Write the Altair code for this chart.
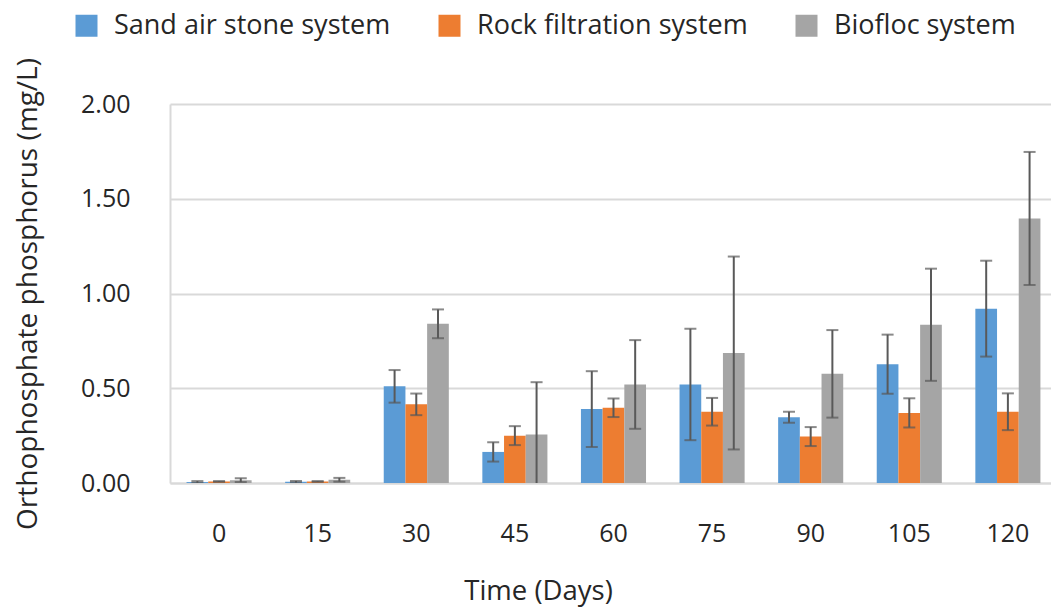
import altair as alt
import pandas as pd

days = ["0", "15", "30", "45", "60", "75", "90", "105", "120"]
systems = ["Sand air stone system", "Rock filtration system", "Biofloc system"]
colors = ["#5B9BD5", "#ED7D31", "#A5A5A5"]

sand_mean = [0.005, 0.006, 0.51, 0.164, 0.39, 0.52, 0.347, 0.627, 0.92]
sand_sd = [0.005, 0.005, 0.086, 0.051, 0.20, 0.294, 0.029, 0.156, 0.253]
rock_mean = [0.008, 0.008, 0.415, 0.25, 0.397, 0.376, 0.245, 0.37, 0.376]
rock_sd = [0.002, 0.002, 0.057, 0.05, 0.049, 0.073, 0.05, 0.077, 0.097]
bio_mean = [0.015, 0.017, 0.84, 0.256, 0.52, 0.686, 0.576, 0.835, 1.396]
bio_sd = [0.01, 0.01, 0.076, 0.276, 0.234, 0.509, 0.231, 0.296, 0.351]

rows = []
for s, means, sds in zip(systems, [sand_mean, rock_mean, bio_mean], [sand_sd, rock_sd, bio_sd]):
    for d, m, e in zip(days, means, sds):
        rows.append({"day": d, "system": s, "mean": m, "lo": m - e, "hi": m + e})
df = pd.DataFrame(rows)

FONT = "Open Sans"
TXT = "#262626"
YTITLE = "Orthophosphate phosphorus (mg/L)"

x = alt.X(
    "day:N",
    sort=days,
    title="Time (Days)",
    scale=alt.Scale(paddingInner=0.34, paddingOuter=0.1375, align=0.61),
    axis=alt.Axis(
        labelAngle=0, ticks=False, labelPadding=38, labelFontSize=25,
        titleX=368, titleY=116, titleAlign="center", titleBaseline="alphabetic",
        titleFontSize=27.5, titleFontWeight="normal",
        domainColor="#D9D9D9", domainWidth=2,
    ),
)
xo = alt.XOffset("system:N", sort=systems, scale=alt.Scale(paddingInner=0, paddingOuter=0))
yscale = alt.Scale(domain=[0, 2])
yaxis = alt.Axis(
    values=[0, 0.5, 1.0, 1.5, 2.0], format=".2f", ticks=False, labelPadding=40,
    labelFontSize=25, gridColor="#D9D9D9", gridWidth=2,
    domainColor="#D9D9D9", domainWidth=2,
    titleFontSize=28, titleFontWeight="normal", titleAngle=-90,
    titleX=-142, titleY=189.5, titleAlign="center", titleBaseline="middle",
)

bars = alt.Chart(df).mark_bar().encode(
    x=x,
    xOffset=xo,
    y=alt.Y("mean:Q", scale=yscale, axis=yaxis, title=YTITLE),
    color=alt.Color(
        "system:N",
        scale=alt.Scale(domain=systems, range=colors),
        legend=alt.Legend(
            title=None, orient="none", legendX=-97, legendY=-92,
            direction="horizontal", symbolType="square", symbolSize=484,
            symbolStrokeWidth=0, labelFontSize=27, labelOffset=14,
            columnPadding=45, labelLimit=500, labelColor=TXT,
        ),
    ),
)

rules = alt.Chart(df).mark_rule(color="#595959", strokeWidth=2, clip=True).encode(
    x=x, xOffset=xo,
    y=alt.Y("lo:Q", scale=yscale, title=YTITLE),
    y2="hi:Q",
)
caps_hi = alt.Chart(df).mark_tick(color="#595959", size=12, thickness=2, clip=True).encode(
    x=x, xOffset=xo, y=alt.Y("hi:Q", scale=yscale, title=YTITLE),
)
caps_lo = alt.Chart(df).mark_tick(color="#595959", size=12, thickness=2, clip=True).encode(
    x=x, xOffset=xo, y=alt.Y("lo:Q", scale=yscale, title=YTITLE),
)

chart = alt.layer(bars, rules, caps_hi, caps_lo).properties(
    width=881,
    height=379,
    autosize=alt.AutoSizeParams(type="none"),
    padding={"left": 170, "top": 104, "right": 0, "bottom": 127},
    background="white",
).configure_view(stroke=None).configure_axis(
    labelFont=FONT, titleFont=FONT, labelColor=TXT, titleColor=TXT,
).configure_legend(labelFont=FONT)

chart.save("out.html", embed_options={"renderer": "svg", "actions": False})
